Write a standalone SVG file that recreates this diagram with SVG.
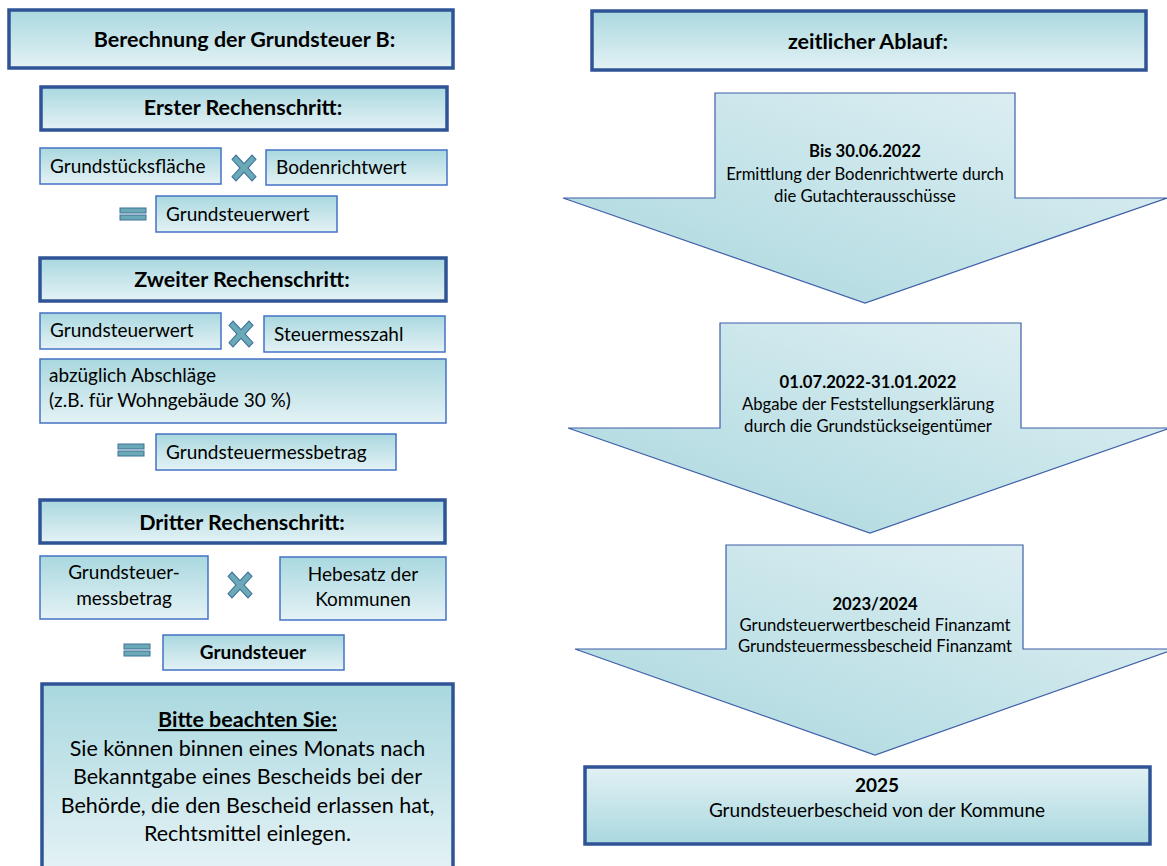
<svg xmlns="http://www.w3.org/2000/svg" width="1167" height="866" viewBox="0 0 1167 866">
<defs>
<linearGradient id="gBox" x1="0" y1="0" x2="0" y2="1">
<stop offset="0" stop-color="#A9D8DF"/><stop offset="1" stop-color="#E4F2F5"/>
</linearGradient>
<linearGradient id="gBoxR" x1="0" y1="0" x2="0" y2="1">
<stop offset="0" stop-color="#E2F1F4"/><stop offset="1" stop-color="#A9D8DF"/>
</linearGradient>
<linearGradient id="gArrow" x1="1" y1="0" x2="0" y2="1">
<stop offset="0" stop-color="#E3F1F4"/><stop offset="1" stop-color="#A8D7DE"/>
</linearGradient>
<path id="mult" d="M-12,-8 L-8,-12 L0,-4 L8,-12 L12,-8 L4,0 L12,8 L8,12 L0,4 L-8,12 L-12,8 L-4,0 Z"/>
<g id="eq"><rect x="0" y="0" width="26" height="5"/><rect x="0" y="7" width="26" height="5"/></g>
</defs>
<style>
.hdr{fill:url(#gBox);stroke:#2F5496;stroke-width:3.5}
.box{fill:url(#gBox);stroke:#4472C4;stroke-width:1.5}
.arrow{fill:url(#gArrow);stroke:#3F5FA8;stroke-width:1.2}
.op{fill:#6AAAB6;stroke:#41719C;stroke-width:1}
text{font-family:Lato,"Liberation Sans",sans-serif;fill:#000}
.h{font-size:21.5px;font-weight:bold;text-anchor:middle}
.t{font-size:19px}
.c{text-anchor:middle}
.b{font-weight:bold}
.n{font-size:21.5px;text-anchor:middle}
.a{font-size:16.7px;text-anchor:middle}
.f{font-size:19px;text-anchor:middle}
</style>
<rect width="1167" height="866" fill="#FFFFFF"/>

<g id="hdr-left"><rect class="hdr" x="9" y="10" width="444" height="58"/><text class="h" x="244.5" y="47">Berechnung der Grundsteuer B:</text></g>

<g id="step1"><rect class="hdr" x="41" y="87" width="406" height="43"/><text class="h" x="243" y="115">Erster Rechenschritt:</text></g>
<g id="s1-flaeche"><rect class="box" x="40" y="148" width="181" height="36"/><text class="t" x="50" y="173">Grundstücksfläche</text></g>
<g id="s1-mult"><use href="#mult" class="op" transform="translate(244,168) scale(1,1.08)"/></g>
<g id="s1-boden"><rect class="box" x="266" y="150" width="181" height="35"/><text class="t" x="276" y="174">Bodenrichtwert</text></g>
<g id="s1-eq"><use href="#eq" class="op" transform="translate(120,208)"/></g>
<g id="s1-wert"><rect class="box" x="156" y="196" width="181" height="36"/><text class="t" x="166" y="221">Grundsteuerwert</text></g>

<g id="step2"><rect class="hdr" x="40" y="258" width="406" height="43"/><text class="h" x="242" y="287">Zweiter Rechenschritt:</text></g>
<g id="s2-wert"><rect class="box" x="40" y="313" width="181" height="36"/><text class="t" x="50" y="337">Grundsteuerwert</text></g>
<g id="s2-mult"><use href="#mult" class="op" transform="translate(241,334) scale(1,1.08)"/></g>
<g id="s2-zahl"><rect class="box" x="264" y="316" width="181" height="36"/><text class="t" x="274" y="341">Steuermesszahl</text></g>
<g id="s2-abschlag"><rect class="box" x="40" y="359" width="406" height="64"/><text class="t" x="49" y="382">abzüglich Abschläge</text><text class="t" x="49" y="407">(z.B. für Wohngebäude 30 %)</text></g>
<g id="s2-eq"><use href="#eq" class="op" transform="translate(118,444)"/></g>
<g id="s2-mess"><rect class="box" x="156" y="434" width="240" height="36"/><text class="t" x="166" y="459">Grundsteuermessbetrag</text></g>

<g id="step3"><rect class="hdr" x="40" y="500" width="405" height="43"/><text class="h" x="242" y="530">Dritter Rechenschritt:</text></g>
<g id="s3-mess"><rect class="box" x="40" y="556" width="168" height="63"/><text class="t c" x="124" y="579">Grundsteuer-</text><text class="t c" x="124" y="605">messbetrag</text></g>
<g id="s3-mult"><use href="#mult" class="op" transform="translate(240,585) scale(1,1.08)"/></g>
<g id="s3-hebe"><rect class="box" x="280" y="557" width="166" height="63"/><text class="t c" x="363" y="581">Hebesatz der</text><text class="t c" x="363" y="606">Kommunen</text></g>
<g id="s3-eq"><use href="#eq" class="op" transform="translate(124,644)"/></g>
<g id="s3-steuer"><rect class="box" x="163" y="635" width="181" height="35"/><text class="t c b" x="253" y="659">Grundsteuer</text></g>

<g id="hinweis"><rect class="hdr" x="42" y="684" width="411" height="186"/>
<text class="n b" x="247.5" y="727" text-decoration="underline">Bitte beachten Sie:</text>
<text class="n" x="247.5" y="756">Sie können binnen eines Monats nach</text>
<text class="n" x="247.5" y="784">Bekanntgabe eines Bescheids bei der</text>
<text class="n" x="247.5" y="813">Behörde, die den Bescheid erlassen hat,</text>
<text class="n" x="247.5" y="841">Rechtsmittel einlegen.</text></g>

<g id="hdr-right"><rect class="hdr" x="592" y="11" width="554" height="59"/><text class="h" x="868" y="49">zeitlicher Ablauf:</text></g>

<g id="arrow1"><path class="arrow" d="M715,93 H1015 V198 H1167 L865,303 L563,198 H715 Z"/>
<text class="a b" x="865" y="157">Bis 30.06.2022</text>
<text class="a" x="865" y="180">Ermittlung der Bodenrichtwerte durch</text>
<text class="a" x="865" y="202">die Gutachterausschüsse</text></g>

<g id="arrow2"><path class="arrow" d="M720,323 H1021 V428 H1170 L870,533 L568,428 H720 Z"/>
<text class="a b" x="868" y="388">01.07.2022-31.01.2022</text>
<text class="a" x="868" y="410">Abgabe der Feststellungserklärung</text>
<text class="a" x="868" y="432">durch die Grundstückseigentümer</text></g>

<g id="arrow3"><path class="arrow" d="M726,545 H1023 V649 H1175 L875,755 L575,649 H726 Z"/>
<text class="a b" x="875" y="610">2023/2024</text>
<text class="a" x="875" y="631">Grundsteuerwertbescheid Finanzamt</text>
<text class="a" x="875" y="652">Grundsteuermessbescheid Finanzamt</text></g>

<g id="final"><rect x="585" y="767" width="565" height="77" fill="url(#gBoxR)" stroke="#2F5496" stroke-width="3.5"/>
<text class="f b" x="877" y="792">2025</text>
<text class="f" x="877" y="817">Grundsteuerbescheid von der Kommune</text></g>

<g id="connectors"></g>
</svg>
